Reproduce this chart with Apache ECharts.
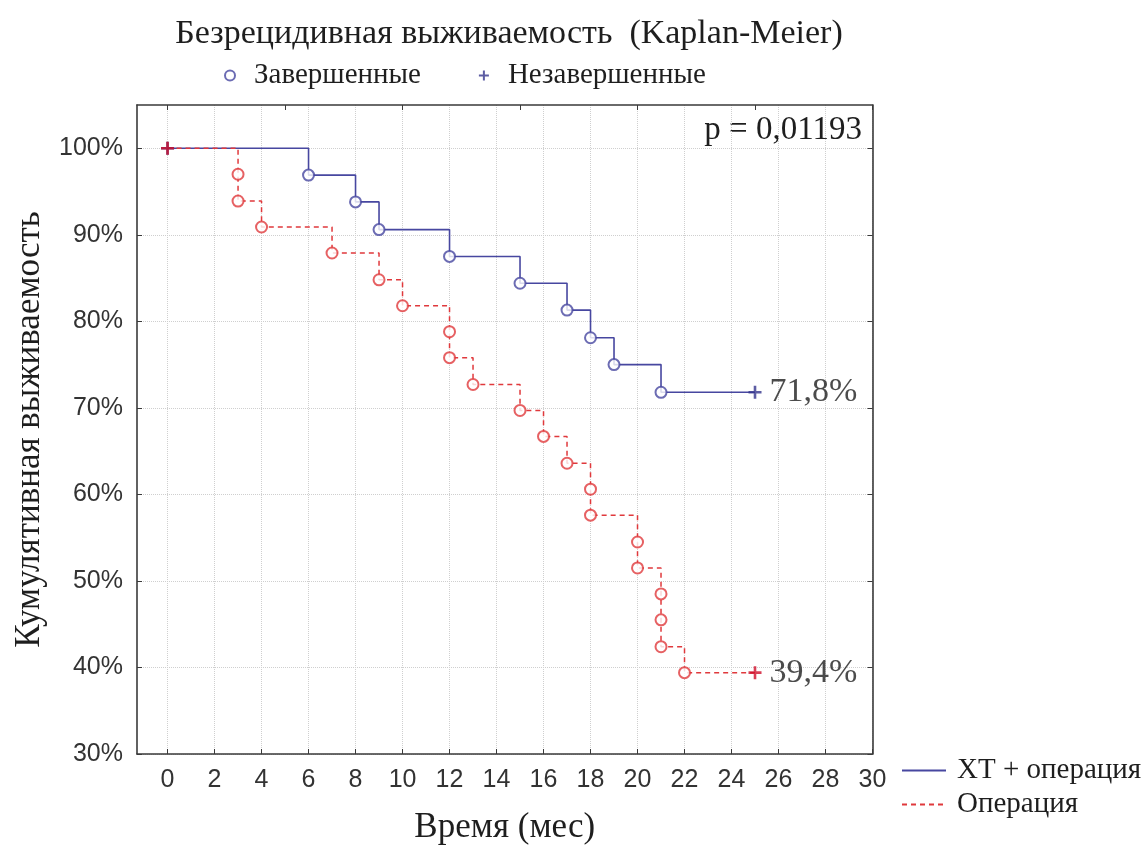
<!DOCTYPE html>
<html>
<head>
<meta charset="utf-8">
<script src="https://cdn.jsdelivr.net/npm/echarts@6/dist/echarts.min.js"></script>
<style>
  html, body { margin: 0; padding: 0; background: #fff; }
  #chart { width: 1147px; height: 850px; }
</style>
</head>
<body>
<div id="chart"></div>
<script>
// Kaplan-Meier, two groups. times in months, survival in %
const xtEventTimes = [6, 8, 9, 12, 15, 17, 18, 19, 21];
const xtEventSurv = [96.9, 93.8, 90.6, 87.5, 84.4, 81.3, 78.1, 75.0, 71.8];
const xtCensored = [[0, 100], [25, 71.8]];

const opEventTimes = [3, 3, 4, 7, 9, 10, 12, 12, 13, 15, 16, 17, 18, 18, 20, 20, 21, 21, 21, 22];
const opEventSurv = [97.0, 93.9, 90.9, 87.9, 84.8, 81.8, 78.8, 75.8, 72.7, 69.7, 66.7, 63.6, 60.6, 57.6, 54.5, 51.5, 48.5, 45.5, 42.4, 39.4];
const opCensored = [[0, 100], [25, 39.4]];

const xTicks = [0, 2, 4, 6, 8, 10, 12, 14, 16, 18, 20, 22, 24, 26, 28, 30];
const xTopTicks = [0, 5, 10, 15, 20, 25, 30];
const yTicks = [30, 40, 50, 60, 70, 80, 90, 100];

const pValueText = 'p = 0,01193';

const blue = '#4747a0';
const blueDark = '#35358c';
const red = '#e0393c';
const redDark = '#cf0f2b';
const serif = 'Liberation Serif';
const sans = 'Liberation Sans';
const plusPath = 'path://M4,0H6V4H10V6H6V10H4V6H0V4H4Z';

function zip(ts, vs) {
    return ts.map((t, i) => [t, vs[i]]);
}

// step path: start point, events, last censored point
function stepData(events, censored) {
    return [censored[0]].concat(events, [censored[censored.length - 1]]);
}

function censorData(points) {
    return points.map((p, i) => ({
        value: p,
        label: { show: i === points.length - 1 }
    }));
}

const xtEvents = zip(xtEventTimes, xtEventSurv);
const opEvents = zip(opEventTimes, opEventSurv);

const chart = echarts.init(document.getElementById('chart'));

const censorLabel = {
    position: 'right',
    distance: 8,
    fontFamily: serif,
    fontSize: 34,
    color: '#1e1e1e',
    formatter: p => String(p.value[1]).replace('.', ',') + '%'
};

const option = {
    animation: false,
    backgroundColor: '#fff',
    title: {
        text: 'Безрецидивная выживаемость  (Kaplan-Meier)',
        left: 504,
        textAlign: 'center',
        top: 12,
        textStyle: { fontFamily: serif, fontSize: 34, fontWeight: 'normal', color: '#1e1e1e' }
    },
    legend: [
        {
            data: [
                { name: 'Завершенные', icon: 'emptyCircle' },
                { name: 'Незавершенные', icon: plusPath }
            ],
            left: 219,
            top: 56,
            itemWidth: 38,
            itemHeight: 10,
            itemGap: 58,
            selectedMode: false,
            textStyle: { fontFamily: serif, fontSize: 29, color: '#1e1e1e' }
        },
        {
            data: ['ХТ + операция', 'Операция'],
            orient: 'vertical',
            left: 896,
            top: 751,
            itemWidth: 44,
            itemHeight: 14,
            itemGap: 5,
            selectedMode: false,
            itemStyle: { opacity: 0 },
            textStyle: { fontFamily: serif, fontSize: 29, color: '#1e1e1e', padding: [0, 0, 0, 6] }
        }
    ],
    grid: { left: 137, right: 274.5, top: 105, bottom: 91.5 },
    xAxis: [
        {
            type: 'value',
            min: -1.3,
            max: 30,
            name: 'Время (мес)',
            nameLocation: 'middle',
            nameGap: 56,
            nameTextStyle: { fontFamily: serif, fontSize: 35, color: '#1e1e1e' },
            axisLine: { lineStyle: { color: '#3a3a3a', width: 1.6 } },
            axisTick: { inside: true, length: 5, customValues: xTicks, lineStyle: { color: '#3a3a3a' } },
            axisLabel: { customValues: xTicks, margin: 14, fontFamily: sans, fontSize: 25, color: '#333' },
            splitLine: { show: true, lineStyle: { color: '#cfcfcf', type: 'dotted', width: 1 } }
        },
        {
            type: 'value',
            position: 'top',
            min: -1.3,
            max: 30,
            axisLine: { show: true, onZero: false, lineStyle: { color: '#3a3a3a', width: 1.6 } },
            axisTick: { inside: true, length: 5, customValues: xTopTicks, lineStyle: { color: '#3a3a3a' } },
            axisLabel: { show: false },
            splitLine: { show: false }
        }
    ],
    yAxis: [
        {
            type: 'value',
            min: 30,
            max: 105,
            name: 'Кумулятивная выживаемость',
            nameLocation: 'middle',
            nameGap: 90,
            nameTextStyle: { fontFamily: serif, fontSize: 35, color: '#1e1e1e' },
            axisLine: { show: true, onZero: false, lineStyle: { color: '#3a3a3a', width: 1.6 } },
            axisTick: { show: true, inside: true, length: 5, customValues: yTicks, lineStyle: { color: '#3a3a3a' } },
            axisLabel: { customValues: yTicks, margin: 14, fontFamily: sans, fontSize: 25, color: '#333', formatter: '{value}%' },
            splitLine: { show: true, lineStyle: { color: '#cfcfcf', type: 'dotted', width: 1 } }
        },
        {
            type: 'value',
            position: 'right',
            min: 30,
            max: 105,
            axisLine: { show: true, onZero: false, lineStyle: { color: '#3a3a3a', width: 1.6 } },
            axisTick: { show: true, inside: true, length: 5, customValues: yTicks, lineStyle: { color: '#3a3a3a' } },
            axisLabel: { show: false },
            splitLine: { show: false }
        }
    ],
    graphic: [
        {
            type: 'text',
            right: 1147 - 862,
            top: 114,
            style: { text: pValueText, fontFamily: serif, fontSize: 33, fill: '#1e1e1e' }
        }
    ],
    series: [
        {
            name: 'ХТ + операция',
            type: 'line',
            step: 'end',
            symbol: 'none',
            data: stepData(xtEvents, xtCensored),
            lineStyle: { color: blue, width: 1.6 },
            itemStyle: { color: blue },
            z: 2
        },
        {
            name: 'Операция',
            type: 'line',
            step: 'end',
            symbol: 'none',
            data: stepData(opEvents, opCensored),
            lineStyle: { color: red, width: 1.5, type: [5, 4] },
            itemStyle: { color: red },
            z: 3
        },
        {
            name: 'Завершенные',
            type: 'scatter',
            symbol: 'emptyCircle',
            symbolSize: 11,
            data: xtEvents,
            itemStyle: { color: blue, borderColor: blue, borderWidth: 1.8 },
            z: 4
        },
        {
            name: 'Завершенные',
            type: 'scatter',
            symbol: 'emptyCircle',
            symbolSize: 11,
            data: opEvents,
            itemStyle: { color: red, borderColor: red, borderWidth: 1.7 },
            z: 5
        },
        {
            name: 'Незавершенные',
            type: 'scatter',
            symbol: plusPath,
            symbolSize: 13,
            data: censorData(xtCensored),
            itemStyle: { color: blueDark },
            label: censorLabel,
            z: 6
        },
        {
            name: 'Незавершенные',
            type: 'scatter',
            symbol: plusPath,
            symbolSize: 13,
            data: censorData(opCensored),
            itemStyle: { color: redDark },
            label: censorLabel,
            z: 7
        }
    ]
};

chart.setOption(option);
</script>
</body>
</html>
